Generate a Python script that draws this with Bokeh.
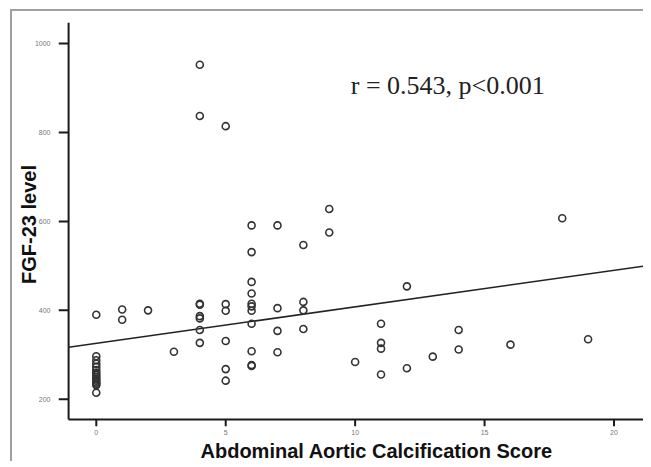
from bokeh.plotting import figure
from bokeh.models import Label, Range1d, FixedTicker, Title
from bokeh.embed import file_html
from bokeh.resources import INLINE

# Abdominal aortic calcification score (x) and FGF-23 level (y)
aac_score = [0] * 15 + [1, 1, 2, 3] + [4] * 8 + [5] * 6 + [6] * 11 + [7] * 4 + [8] * 4 \
    + [9, 9, 10, 11, 11, 11, 11, 12, 12, 13, 14, 14, 16, 18, 19]
fgf23_level = [390, 297, 288, 280, 273, 266, 260, 255, 250, 246, 242, 238, 235, 232, 215,
               402, 379, 400, 307,
               952, 837, 415, 413, 387, 382, 356, 327,
               814, 414, 399, 331, 268, 242,
               591, 531, 464, 438, 415, 409, 399, 370, 308, 277, 275,
               591, 405, 354, 306,
               547, 419, 400, 358,
               628, 575, 284, 370, 327, 314, 256, 454, 270, 296, 356, 312, 323, 607, 335]

x_ticks = [0, 5, 10, 15, 20]
y_ticks = [200, 400, 600, 800, 1000]
fit_intercept = 326.0
fit_slope = 8.2
stat_text = "r = 0.543, p<0.001"
x_title = "Abdominal Aortic Calcification Score"
y_title = "FGF-23 level"

# axis extents (spines) and the slightly larger view that leaves room for outward ticks
x_axis_lo, x_axis_hi = -1.07, 21.14
y_axis_lo, y_axis_hi = 155, 1047
x_view_lo, y_view_lo = -1.46, 139

p = figure(width=643, height=461, output_backend="svg", toolbar_location=None,
           x_range=Range1d(x_view_lo, x_axis_hi), y_range=Range1d(y_view_lo, y_axis_hi),
           min_border_left=58, min_border_right=0, min_border_top=22, min_border_bottom=35)
p.styles = {
    "overflow": "hidden",
    "background-image": "linear-gradient(#a0a0a0, #a0a0a0), linear-gradient(#a0a0a0, #a0a0a0)",
    "background-size": "2px 100%, 100% 2px",
    "background-position": "10px 9px, 10px 9px",
    "background-repeat": "no-repeat",
}
p.grid.visible = False
p.outline_line_color = None
p.background_fill_color = "white"
p.border_fill_color = None

for ax in (p.xaxis[0], p.yaxis[0]):
    ax.axis_line_color = None
    ax.major_tick_in = 0
    ax.major_tick_out = 0
    ax.major_label_text_font = "Liberation Sans"
    ax.major_label_text_font_size = "7px"
    ax.major_label_text_color = "#777777"
    ax.axis_label_text_font = "Liberation Sans"
    ax.axis_label_text_font_size = "20px"
    ax.axis_label_text_font_style = "bold"
    ax.axis_label_text_color = "#111111"

p.xaxis[0].ticker = FixedTicker(ticks=x_ticks, minor_ticks=[])
p.yaxis[0].ticker = FixedTicker(ticks=y_ticks, minor_ticks=[])
p.xaxis[0].major_label_standoff = 3
p.yaxis[0].major_label_standoff = 8
p.yaxis[0].axis_label = y_title
p.yaxis[0].axis_label_standoff = -8

p.add_layout(Title(text=x_title, align="left", offset=142, standoff=0,
                   text_font="Liberation Sans", text_font_size="20px",
                   text_font_style="bold", text_color="#111111"), "below")

# spines and outward tick marks
spine_color = "#1a1a1a"
p.segment(x0=[x_axis_lo, x_axis_lo], y0=[y_axis_lo, y_axis_lo],
          x1=[x_axis_lo, x_axis_hi], y1=[y_axis_hi, y_axis_lo],
          line_color=spine_color, line_width=2)
p.segment(x0=[x_view_lo] * len(y_ticks), y0=y_ticks, x1=[x_axis_lo] * len(y_ticks), y1=y_ticks,
          line_color=spine_color, line_width=2)
p.segment(x0=x_ticks, y0=[y_view_lo] * len(x_ticks), x1=x_ticks, y1=[y_axis_lo] * len(x_ticks),
          line_color=spine_color, line_width=2)

# fitted regression line across the axis extent
fit_x = [x_axis_lo, x_axis_hi]
fit_y = [fit_intercept + fit_slope * v for v in fit_x]
p.line(fit_x, fit_y, line_color="#222222", line_width=1.6)

p.scatter(aac_score, fgf23_level, marker="circle", size=7, fill_color=None,
          line_color="#333333", line_width=1.6)

p.add_layout(Label(x=9.83, y=906, text=stat_text, text_font="Liberation Serif",
                   text_font_size="26px", text_color="#222222", text_baseline="alphabetic"))

open("out.html", "w").write(file_html(p, INLINE))
